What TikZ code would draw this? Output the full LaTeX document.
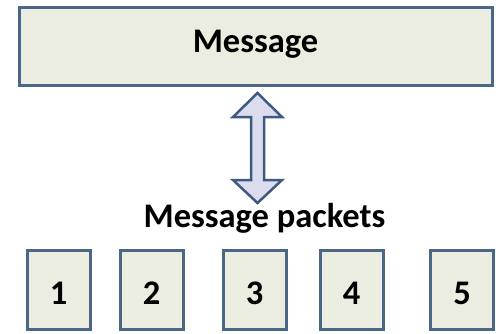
\documentclass[tikz,border=0pt]{standalone}
\usepackage{fontspec}
\setmainfont{Carlito}
\usepackage{xcolor}
\usepackage{tikz}
\usetikzlibrary{positioning, calc}

\definecolor{boxfill}{HTML}{EBEDE0}
\definecolor{boxline}{HTML}{4B6687}
\definecolor{arrfill}{HTML}{DCDCEF}
\definecolor{arrline}{HTML}{3F5A80}

\tikzset{
  msgbox/.style={draw=boxline, fill=boxfill, line width=3pt, inner sep=0pt,
    font=\fontsize{34.5}{40}\selectfont\bfseries},
  pktbox/.style={msgbox, minimum width=63pt, minimum height=79pt,
    text height=29pt, text depth=0pt},
  lbl/.style={inner sep=0pt, font=\fontsize{34.5}{40}\selectfont\bfseries}
}

\begin{document}
\begin{tikzpicture}[x=1pt, y=-1pt]
  \useasboundingbox (0,0) rectangle (496,333);
  \node[msgbox, minimum width=473pt, minimum height=78pt,
    text height=20pt, text depth=8pt] (msg) at (255.5,46) {Message};
  \node[lbl, anchor=base] (pkts) at (264.5,227) {Message packets};
  \foreach \x/\n in {58.5/1, 151.5/2, 254.5/3, 351.5/4, 462/5}{
    \node[pktbox] (p\n) at (\x,289.5) {\n};
  }
  % double arrow between message and packets
  \coordinate (top) at (257.5,93);
  \coordinate (bot) at (257.5,203);
  \draw[draw=arrline, fill=arrfill, line width=2.5pt, line join=miter]
    (top) -- ++(24.5,24) -- ++(-18,0) -- ($(bot)+(6.5,-23)$) -- ++(18,0)
    -- (bot) -- ++(-24.5,-23) -- ++(18,0) -- ($(top)+(-6.5,24)$) -- ++(-18,0) -- cycle;
\end{tikzpicture}
\end{document}
